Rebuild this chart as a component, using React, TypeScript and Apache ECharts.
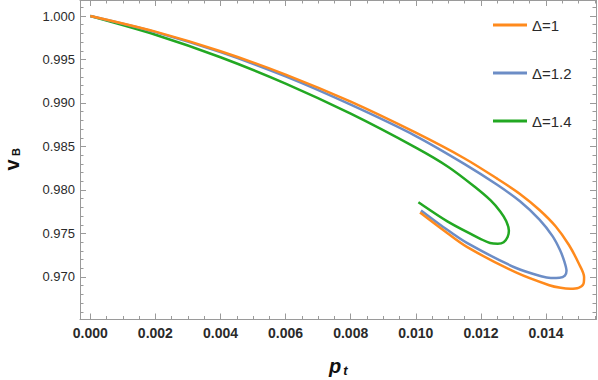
import React, { useEffect, useRef } from "react";
import * as echarts from "echarts";

// Δ = 1 (orange)
const delta1Points: [number, number][] = [
  [0, 1.0],
  [0.002, 0.9982],
  [0.004, 0.99595],
  [0.006, 0.99327],
  [0.008, 0.99015],
  [0.01, 0.98658],
  [0.0115, 0.98362],
  [0.0125, 0.9813],
  [0.0132, 0.97955],
  [0.0138, 0.9777],
  [0.0143, 0.9758],
  [0.0147, 0.9737],
  [0.015, 0.9716],
  [0.01517, 0.97],
  [0.01515, 0.9692],
  [0.015, 0.96875],
  [0.01475, 0.96865],
  [0.01445, 0.96875],
  [0.0141, 0.96905],
  [0.01311, 0.97046],
  [0.01157, 0.97345],
  [0.01084, 0.9754],
  [0.01013, 0.97741],
];

// Δ = 1.2 (blue)
const delta12Points: [number, number][] = [
  [0, 1.0],
  [0.002, 0.99815],
  [0.004, 0.99584],
  [0.006, 0.99305],
  [0.008, 0.9898],
  [0.01, 0.9862],
  [0.0115, 0.98298],
  [0.0125, 0.9806],
  [0.0132, 0.9787],
  [0.0138, 0.9766],
  [0.0142, 0.9747],
  [0.01443, 0.9731],
  [0.01457, 0.9717],
  [0.01463, 0.9707],
  [0.01458, 0.97015],
  [0.01442, 0.9699],
  [0.01415, 0.96988],
  [0.01385, 0.97008],
  [0.0131, 0.971],
  [0.01157, 0.97391],
  [0.01084, 0.97575],
  [0.01016, 0.97764],
];

// Δ = 1.4 (green)
const delta14Points: [number, number][] = [
  [0, 1.0],
  [0.002, 0.99785],
  [0.004, 0.99526],
  [0.006, 0.99223],
  [0.008, 0.98877],
  [0.01, 0.98487],
  [0.011, 0.98265],
  [0.0118, 0.9804],
  [0.0123, 0.9788],
  [0.0126, 0.9775],
  [0.01278, 0.9764],
  [0.01286, 0.9753],
  [0.01282, 0.9746],
  [0.0127, 0.974],
  [0.01252, 0.97383],
  [0.01228, 0.97391],
  [0.01206, 0.97425],
  [0.01105, 0.97621],
  [0.01008, 0.97859],
];

const seriesNames = ["Δ=1", "Δ=1.2", "Δ=1.4"];
const seriesColors = ["#ff8a1c", "#6c8dc6", "#22a822"];

const xMajorTicks = [0, 0.002, 0.004, 0.006, 0.008, 0.01, 0.012, 0.014];
const yMajorTicks = [0.97, 0.975, 0.98, 0.985, 0.99, 0.995, 1.0];

const xMin = -0.000316;
const xMax = 0.015536;
const yMin = 0.96511;
const yMax = 1.00184;

const xMinorTicks: number[] = [];
for (let i = 0; i <= 31; i++) xMinorTicks.push(+(i * 0.0005).toFixed(4));
const yMinorTicks: number[] = [];
for (let i = 966; i <= 1001; i++) yMinorTicks.push(i / 1000);

const FONT = "'Liberation Sans', Arial, sans-serif";
const FRAME = "#9a9a9a";
const LABEL = "#2a2a2a";

export default function App() {
  const ref = useRef<HTMLDivElement>(null);
  useEffect(() => {
    if (!ref.current) return;
    const chart = echarts.init(ref.current, undefined, { renderer: "svg" });

    const mkX = (pos: "top" | "bottom", ticks: number[], len: number, labels: boolean, line: boolean) => ({
      type: "value",
      position: pos,
      min: xMin,
      max: xMax,
      splitLine: { show: false },
      axisLine: { show: line, onZero: false, lineStyle: { color: FRAME, width: 1 } },
      axisTick: { show: true, inside: true, length: len, customValues: ticks, lineStyle: { color: FRAME } },
      axisLabel: labels
        ? {
            show: true,
            customValues: xMajorTicks,
            formatter: (v: number) => v.toFixed(3),
            fontFamily: FONT,
            fontSize: 14,
            fontWeight: "bold",
            color: LABEL,
            margin: 6,
          }
        : { show: false },
    });
    const mkY = (pos: "left" | "right", ticks: number[], len: number, labels: boolean, line: boolean) => ({
      type: "value",
      position: pos,
      min: yMin,
      max: yMax,
      splitLine: { show: false },
      axisLine: { show: line, onZero: false, lineStyle: { color: FRAME, width: 1 } },
      axisTick: { show: true, inside: true, length: len, customValues: ticks, lineStyle: { color: FRAME } },
      axisLabel: labels
        ? {
            show: true,
            customValues: yMajorTicks,
            formatter: (v: number) => v.toFixed(3),
            fontFamily: FONT,
            fontSize: 13,
            color: LABEL,
            margin: 5,
          }
        : { show: false },
    });

    const allPoints = [delta1Points, delta12Points, delta14Points];

    chart.setOption({
      animation: false,
      backgroundColor: "#ffffff",
      grid: { left: 80, right: 2, top: 0, bottom: 60.5, containLabel: false },
      xAxis: [
        mkX("bottom", xMajorTicks, 6, true, true),
        mkX("bottom", xMinorTicks, 3.5, false, false),
        mkX("top", xMajorTicks, 6, false, true),
        mkX("top", xMinorTicks, 3.5, false, false),
      ],
      yAxis: [
        mkY("left", yMajorTicks, 6, true, true),
        mkY("left", yMinorTicks, 3.5, false, false),
        mkY("right", yMajorTicks, 6, false, true),
        mkY("right", yMinorTicks, 3.5, false, false),
      ],
      legend: {
        orient: "vertical",
        left: 493,
        top: 16,
        padding: 0,
        itemWidth: 34,
        itemHeight: 3,
        itemGap: 30,
        icon: "rect",
        textStyle: { fontFamily: FONT, fontSize: 15, color: LABEL, lineHeight: 18 },
        data: seriesNames,
      },
      series: allPoints.map((pts, i) => ({
        name: seriesNames[i],
        type: "line",
        xAxisIndex: 0,
        yAxisIndex: 0,
        data: pts,
        smooth: 0.3,
        symbol: "none",
        showSymbol: false,
        lineStyle: { color: seriesColors[i], width: 2.5 },
        itemStyle: { color: seriesColors[i] },
        z: 3 - i,
      })),
      graphic: [
        {
          type: "text",
          x: 12,
          y: 165,
          rotation: Math.PI / 2,
          style: {
            text: "v",
            font: `bold 20px ${FONT}`,
            fill: "#111",
            align: "center",
            verticalAlign: "middle",
            textAlign: "center",
            textVerticalAlign: "middle",
          },
        },
        {
          type: "text",
          x: 16,
          y: 152,
          rotation: Math.PI / 2,
          style: {
            text: "B",
            font: `bold 11px ${FONT}`,
            fill: "#111",
            align: "center",
            verticalAlign: "middle",
            textAlign: "center",
            textVerticalAlign: "middle",
          },
        },
        {
          type: "text",
          x: 335,
          y: 366,
          style: {
            text: "p",
            font: `italic bold 20px ${FONT}`,
            fill: "#111",
            align: "center",
            verticalAlign: "middle",
            textAlign: "center",
            textVerticalAlign: "middle",
          },
        },
        {
          type: "text",
          x: 345.5,
          y: 370,
          style: {
            text: "t",
            font: `italic bold 13px ${FONT}`,
            fill: "#111",
            align: "center",
            verticalAlign: "middle",
            textAlign: "center",
            textVerticalAlign: "middle",
          },
        },
      ],
    });
    return () => chart.dispose();
  }, []);
  return (
    <div
      ref={ref}
      style={{ position: "fixed", left: 0, top: 0, width: 598, height: 380, background: "#fff" }}
    />
  );
}
